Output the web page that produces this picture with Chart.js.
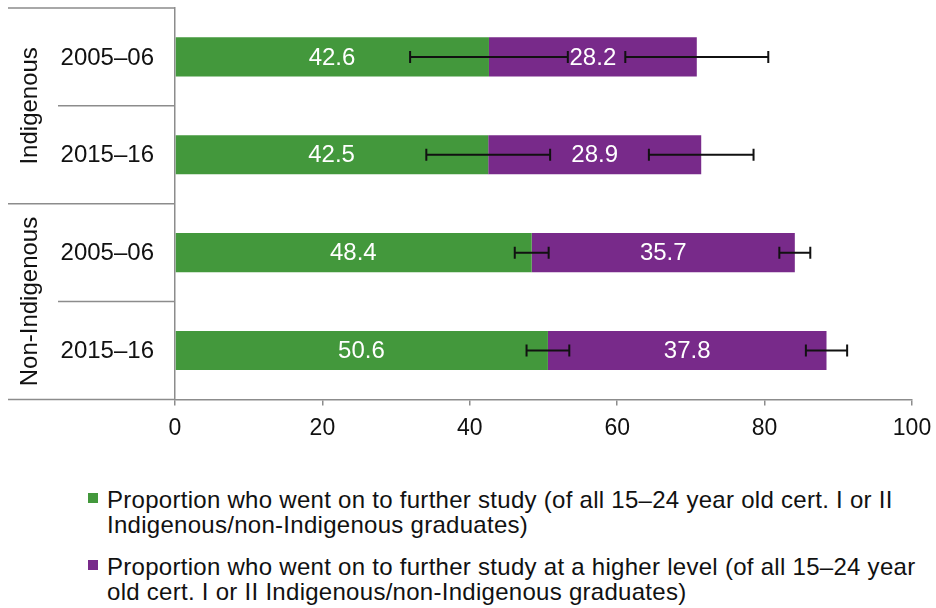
<!DOCTYPE html>
<html>
<head>
<meta charset="utf-8">
<script src="https://cdn.jsdelivr.net/npm/chart.js@4.4.1/dist/chart.umd.min.js"></script>
<style>
  html, body { margin: 0; padding: 0; background: #fff; }
  body { width: 936px; height: 608px; position: relative; overflow: hidden; font-family: "Liberation Sans", Arial, sans-serif; }
  #wrap { position: absolute; left: 0; top: 0; width: 936px; height: 455px; }
  .leg { position: absolute; left: 107px; font-size: 24px; letter-spacing: 0.28px; line-height: 25px; color: #111; white-space: nowrap; }
  .sw { position: absolute; left: -19px; top: 6px; width: 10px; height: 10px; }
</style>
</head>
<body>
<div id="wrap"><canvas id="c"></canvas></div>
<div class="leg" id="leg1" style="top:487px;"><span class="sw" style="background:#43983c"></span>Proportion who went on to further study (of all 15–24 year old cert. I or II<br>Indigenous/non-Indigenous graduates)</div>
<div class="leg" id="leg2" style="top:554px;"><span class="sw" style="background:#782a8a"></span>Proportion who went on to further study at a higher level (of all 15–24 year<br>old cert. I or II Indigenous/non-Indigenous graduates)</div>
<script>
const categories = ['2005–06', '2015–16', '2005–06', '2015–16'];
const groups = ['Indigenous', 'Non-Indigenous'];
const groupSizes = [2, 2];
const furtherStudy = [42.6, 42.5, 48.4, 50.6];
const higherLevel = [28.2, 28.9, 35.7, 37.8];
const furtherErr = [10.7, 8.4, 2.3, 2.9];
const higherErr = [9.7, 7.1, 2.1, 2.8];
const xTicks = [0, 20, 40, 60, 80, 100];
const seriesNames = [
  'Proportion who went on to further study (of all 15–24 year old cert. I or II Indigenous/non-Indigenous graduates)',
  'Proportion who went on to further study at a higher level (of all 15–24 year old cert. I or II Indigenous/non-Indigenous graduates)'
];

const GREEN = '#43983c';
const PURPLE = '#782a8a';
const AXIS = '#8c8c8c';
const FONT = '"Liberation Sans", Arial, sans-serif';

const overlay = {
  id: 'overlay',
  afterDatasetsDraw(chart) {
    const ctx = chart.ctx;
    const x = chart.scales.x, y = chart.scales.y;
    ctx.save();
    ctx.fillStyle = '#ffffff';
    ctx.font = '24px ' + FONT;
    ctx.textAlign = 'center';
    ctx.textBaseline = 'middle';
    categories.forEach((c, i) => {
      const yc = y.getPixelForValue(i);
      ctx.fillText(furtherStudy[i].toFixed(1), x.getPixelForValue(furtherStudy[i] / 2), yc + 1);
      ctx.fillText(higherLevel[i].toFixed(1), x.getPixelForValue(furtherStudy[i] + higherLevel[i] / 2), yc + 1);
    });
    ctx.restore();
    ctx.save();
    ctx.strokeStyle = '#111';
    ctx.lineWidth = 2;
    const cap = 6;
    const drawErr = (center, err, yc) => {
      const x1 = x.getPixelForValue(center - err), x2 = x.getPixelForValue(center + err);
      ctx.beginPath();
      ctx.moveTo(x1, yc); ctx.lineTo(x2, yc);
      ctx.moveTo(x1, yc - cap); ctx.lineTo(x1, yc + cap);
      ctx.moveTo(x2, yc - cap); ctx.lineTo(x2, yc + cap);
      ctx.stroke();
    };
    categories.forEach((c, i) => {
      const yc = y.getPixelForValue(i);
      drawErr(furtherStudy[i], furtherErr[i], yc);
      drawErr(furtherStudy[i] + higherLevel[i], higherErr[i], yc);
    });
    ctx.restore();
  },
  afterDraw(chart) {
    const ctx = chart.ctx;
    const y = chart.scales.y;
    const area = chart.chartArea;
    const left = 8;
    const inner = 58;
    const step = (area.bottom - area.top) / categories.length;
    ctx.save();
    ctx.strokeStyle = AXIS;
    ctx.lineWidth = 1.5;
    ctx.beginPath();
    let idx = 0;
    ctx.moveTo(left, area.top); ctx.lineTo(area.left, area.top);
    groupSizes.forEach((n, g) => {
      for (let k = 1; k < n; k++) {
        const yy = area.top + step * (idx + k);
        ctx.moveTo(inner, yy); ctx.lineTo(area.left, yy);
      }
      idx += n;
      const yy = area.top + step * idx;
      ctx.moveTo(left, yy); ctx.lineTo(area.left, yy);
    });
    ctx.stroke();
    ctx.fillStyle = '#111';
    ctx.font = '24px ' + FONT;
    ctx.textAlign = 'right';
    ctx.textBaseline = 'middle';
    categories.forEach((c, i) => {
      ctx.fillText(c, 154, y.getPixelForValue(i) + 1);
    });
    ctx.textAlign = 'center';
    idx = 0;
    groupSizes.forEach((n, g) => {
      const yc = area.top + step * (idx + n / 2);
      ctx.save();
      ctx.translate(30, yc);
      ctx.rotate(-Math.PI / 2);
      ctx.fillText(groups[g], 0, 0);
      ctx.restore();
      idx += n;
    });
    ctx.restore();
  }
};

new Chart(document.getElementById('c'), {
  type: 'bar',
  data: {
    labels: categories,
    datasets: [
      { label: seriesNames[0], data: furtherStudy, backgroundColor: GREEN },
      { label: seriesNames[1], data: higherLevel, backgroundColor: PURPLE }
    ]
  },
  options: {
    indexAxis: 'y',
    responsive: true,
    maintainAspectRatio: false,
    animation: false,
    layout: { padding: { left: 8, top: 8, right: 24, bottom: 4 } },
    datasets: { bar: { categoryPercentage: 1.0, barPercentage: 0.4 } },
    plugins: { legend: { display: false }, tooltip: { enabled: false } },
    scales: {
      x: {
        stacked: true,
        min: 0, max: 100,
        afterBuildTicks(scale) { scale.ticks = xTicks.map(v => ({ value: v })); },
        afterFit(scale) { scale.paddingLeft = 0; scale.paddingRight = 0; },
        grid: { drawOnChartArea: false, drawTicks: true, tickLength: 6, color: AXIS, lineWidth: 1.5 },
        border: { display: true, color: AXIS, width: 1.5 },
        ticks: { color: '#111', font: { family: FONT, size: 23 }, padding: 9, maxRotation: 0 }
      },
      y: {
        stacked: true,
        afterFit(scale) { scale.width = 167; },
        grid: { display: false, drawTicks: false },
        border: { display: true, color: AXIS, width: 1.5 },
        ticks: { display: false }
      }
    }
  },
  plugins: [overlay]
});
</script>
</body>
</html>
